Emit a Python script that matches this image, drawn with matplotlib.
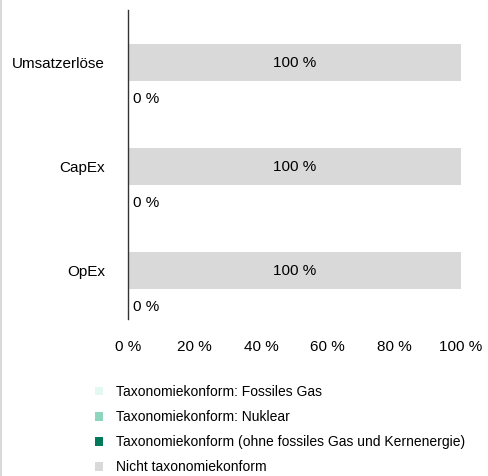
import matplotlib
matplotlib.use("Agg")
import matplotlib.pyplot as plt
from matplotlib.patches import Patch
from matplotlib.lines import Line2D

plt.rcParams['font.family'] = ['Liberation Sans', 'DejaVu Sans']

categories = ["Umsatzerlöse", "CapEx", "OpEx"]
fossiles_gas = [0, 0, 0]
nuklear = [0, 0, 0]
ohne_gas_kern = [0, 0, 0]
nicht_konform = [100, 100, 100]
x_ticks = [0, 20, 40, 60, 80, 100]

legend_labels = [
    "Taxonomiekonform: Fossiles Gas",
    "Taxonomiekonform: Nuklear",
    "Taxonomiekonform (ohne fossiles Gas und Kernenergie)",
    "Nicht taxonomiekonform",
]
colors = ["#E2F8F0", "#8DD5BC", "#00785A", "#D9D9D9"]

fig = plt.figure(figsize=(4.88, 4.76), dpi=100)
ax = fig.add_axes([128 / 488, 1 - 319 / 476, 333 / 488, 309 / 476])

h = 0.35
pos = list(range(len(categories)))
green_pos = [p + h for p in pos]

# gray bar (nicht taxonomiekonform)
ax.barh(pos, nicht_konform, height=h, color=colors[3])
for p, v in zip(pos, nicht_konform):
    ax.text(v / 2, p, f"{v} %", ha="center", va="center", fontsize=11)

# taxonomiekonform stack
left = [0, 0, 0]
for vals, c in zip([fossiles_gas, nuklear, ohne_gas_kern], colors[:3]):
    ax.barh(green_pos, vals, left=left, height=h, color=c)
    left = [a + b for a, b in zip(left, vals)]
for p, v in zip(green_pos, left):
    ax.text(v + 1.5, p, f"{v} %", ha="left", va="center", fontsize=11)

ax.set_xlim(0, 100)
ax.set_ylim(2.466, -0.505)
ax.set_yticks(pos)
ax.set_yticklabels(categories, fontsize=11)
ax.set_xticks(x_ticks)
ax.set_xticklabels([f"{t} %" for t in x_ticks], fontsize=11)
ax.tick_params(axis="y", length=0, pad=16.5)
ax.tick_params(axis="x", length=0, pad=15)
for s in ["top", "right", "bottom"]:
    ax.spines[s].set_visible(False)
ax.spines["left"].set_color("#333333")
ax.spines["left"].set_linewidth(1.0)

handles = [Patch(facecolor=c, edgecolor="none") for c in colors]
fig.legend(handles, legend_labels, loc="upper left",
           bbox_to_anchor=(95 / 488, 1 - 385 / 476), frameon=False,
           fontsize=10, borderpad=0, borderaxespad=0,
           handlelength=0.58, handleheight=0.58, handletextpad=0.95,
           labelspacing=0.8)

# thin gray border on the left edge
fig.add_artist(Line2D([1 / 488, 1 / 488], [0, 1], color="#D9D9D9", lw=1.5,
                      transform=fig.transFigure))

fig.savefig("out.png", dpi=100)
